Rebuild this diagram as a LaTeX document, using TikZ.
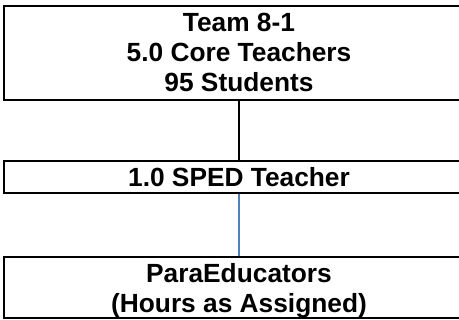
\documentclass[tikz,border=0pt]{standalone}
\usepackage{fontspec}
\setmainfont{Liberation Sans}
\begin{document}
\begin{tikzpicture}[x=1pt,y=-1pt,
  orgbox/.style={draw=black, line width=2pt, rectangle, minimum width=470pt,
    inner sep=0pt, align=center, font=\bfseries\fontsize{26.3}{29.8}\selectfont},
  link/.style={line width=1.4pt}]
\useasboundingbox (0,0) rectangle (459,320);
\clip (0,0) rectangle (459,320);
\fill[white] (0,0) rectangle (459,320);
\node[orgbox, minimum height=94pt, text depth=0pt] (team) at (239,52.6) {Team 8-1\\5.0 Core Teachers\\95 Students};
\node[orgbox, minimum height=31.5pt] (sped) at (239,177.25) {1.0 SPED Teacher};
\node[orgbox, minimum height=61.5pt, text depth=0pt] (para) at (239,287.75) {ParaEducators\\(Hours as Assigned)};
\draw[link, black] (team.south) -- (sped.north);
\draw[link, color={rgb,255:red,79;green,129;blue,189}] (sped.south) -- (para.north);
\end{tikzpicture}
\end{document}
